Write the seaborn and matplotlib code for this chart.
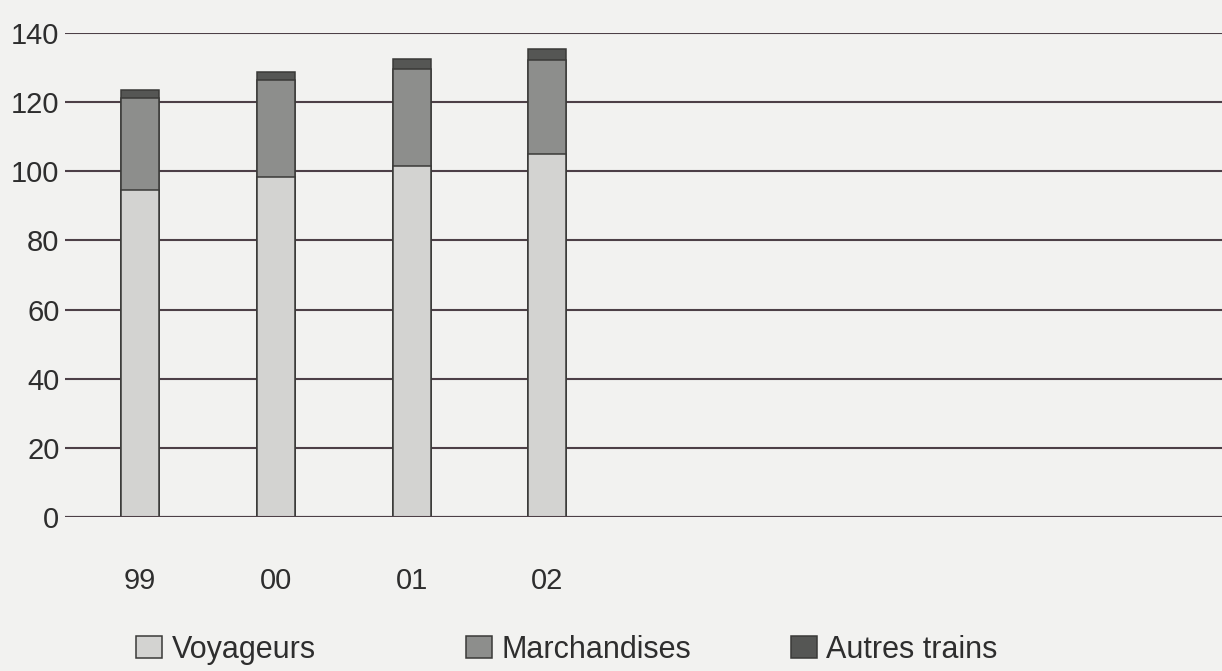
import numpy as np
import pandas as pd
import matplotlib
matplotlib.use('Agg')
import matplotlib.pyplot as plt
from matplotlib.patches import Patch
import seaborn as sns

# Données (trafic, par année)
annees = ["99", "00", "01", "02"]
voyageurs = [94.7, 98.3, 101.4, 105.0]
marchandises = [26.5, 28.1, 28.3, 27.3]
autres_trains = [2.3, 2.2, 2.8, 3.2]
series_noms = ["Voyageurs", "Marchandises", "Autres trains"]
yticks = [0, 20, 40, 60, 80, 100, 120, 140]

couleurs = ["#d3d3d1", "#8d8e8c", "#555654"]
fond = "#f2f2f0"
ligne = "#4d4047"

sns.set_theme(style="white")
plt.rcParams['font.family'] = ['Liberation Sans', 'DejaVu Sans']

df = pd.DataFrame({"annee": annees, "Voyageurs": voyageurs,
                   "Marchandises": marchandises, "Autres trains": autres_trains})
# cumul pour empiler les barres (la plus haute dessinée en premier)
df["c1"] = df["Voyageurs"]
df["c2"] = df["c1"] + df["Marchandises"]
df["c3"] = df["c2"] + df["Autres trains"]

fig = plt.figure(figsize=(12.22, 6.71), dpi=100, facecolor=fond)
ax = fig.add_axes([65 / 1222, (671 - 517) / 671, 1 - 65 / 1222, (517 - 33) / 671])
ax.set_facecolor(fond)

for col, c in zip(["c3", "c2", "c1"], couleurs[::-1]):
    sns.barplot(data=df, x="annee", y=col, color=c, width=0.28,
                edgecolor="#3a3a38", linewidth=1.1, saturation=1, ax=ax, zorder=3)

ax.set_ylim(0, 140)
ax.set_xlim(-0.553, 7.97)
ax.set_yticks(yticks)
ax.yaxis.grid(True, color=ligne, linewidth=1.5, zorder=1)
ax.set_axisbelow(True)
for s in ax.spines.values():
    s.set_visible(False)
ax.axhline(0, color=ligne, linewidth=1.5, zorder=4)
ax.tick_params(axis="y", length=0, pad=4, labelsize=21, labelcolor="#2e2e2e")
ax.tick_params(axis="x", length=0, pad=36, labelsize=21, labelcolor="#2e2e2e")
ax.set_xlabel("")
ax.set_ylabel("")

# légende: trois éléments placés séparément
positions = [140, 470, 795]
for nom, c, px in zip(series_noms, couleurs, positions):
    fig.legend(handles=[Patch(facecolor=c, edgecolor="#3a3a38", linewidth=1.1, label=nom)],
               loc="center left", bbox_to_anchor=(px / 1222 - 0.003, (671 - 650) / 671),
               frameon=False, fontsize=22, handlelength=0.85, handleheight=0.72,
               handletextpad=0.3, borderaxespad=0, borderpad=0,
               labelcolor="#2e2e2e")

fig.savefig("out.png", dpi=100, facecolor=fond)
